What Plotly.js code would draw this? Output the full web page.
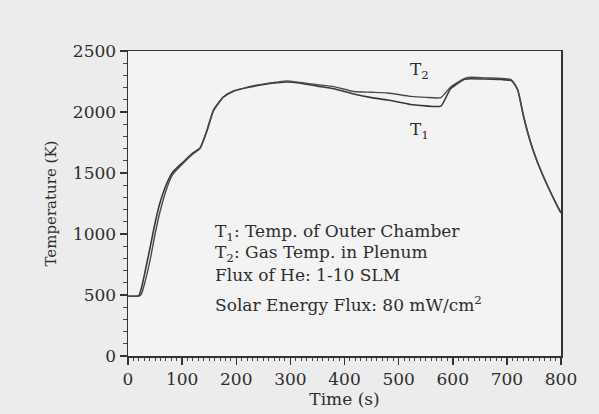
<!DOCTYPE html>
<html>
<head>
<meta charset="utf-8">
<script src="https://cdn.plot.ly/plotly-3.0.1.min.js"></script>
<style>html,body{margin:0;padding:0;background:#ececec;}#chart{width:599px;height:414px;}</style>
</head>
<body>
<div id="chart"></div>
<script>
// Time (s)
const times = [0, 10, 20, 25, 31, 41, 50, 59, 72, 83, 102, 120, 133, 146, 158, 176, 195, 226, 257, 275, 294, 319, 350, 380, 417, 450, 480, 522, 550, 578, 596, 620, 633, 660, 690, 707, 711, 720, 731, 744, 757, 776, 794, 800];
// T1: Temp. of Outer Chamber (K)
const t1 = [490, 490, 495, 560, 680, 893, 1090, 1254, 1418, 1508, 1590, 1664, 1705, 1852, 2016, 2123, 2172, 2205, 2230, 2240, 2246, 2236, 2212, 2190, 2148, 2118, 2098, 2062, 2050, 2048, 2190, 2265, 2272, 2270, 2266, 2260, 2246, 2180, 1959, 1746, 1582, 1385, 1221, 1172];
// T2: Gas Temp. in Plenum (K)
const t2 = [490, 490, 490, 510, 600, 790, 1000, 1180, 1380, 1490, 1580, 1655, 1700, 1845, 2010, 2120, 2170, 2210, 2235, 2245, 2255, 2242, 2224, 2208, 2168, 2162, 2156, 2128, 2120, 2118, 2205, 2272, 2285, 2280, 2276, 2268, 2250, 2185, 1965, 1750, 1585, 1390, 1225, 1175];

const xTickVals = [0, 100, 200, 300, 400, 500, 600, 700, 800];
const yTickVals = [0, 500, 1000, 1500, 2000, 2500];

const noteLines = [
  'T<sub>1</sub>: Temp. of Outer Chamber',
  'T<sub>2</sub>: Gas Temp. in Plenum',
  'Flux of He: 1-10 SLM',
  'Solar Energy Flux: 80 mW/cm<sup>2</sup>'
];
const noteY = [1016, 844, 664, 426];

const font = {family: 'DejaVu Serif', size: 17, color: '#2e2e2e'};
const lineColor = '#383838';

const traces = [
  {x: times, y: t1, mode: 'lines', name: 'T1', line: {color: lineColor, width: 1.6, shape: 'spline', smoothing: 0.5}},
  {x: times, y: t2, mode: 'lines', name: 'T2', line: {color: '#4a4a4a', width: 1.4, shape: 'spline', smoothing: 0.5}}
];

const annotations = noteLines.map((t, i) => ({
  x: 157, y: noteY[i], xref: 'x', yref: 'y', text: t, showarrow: false,
  xanchor: 'left', yanchor: 'middle', font: font
}));
annotations.push({x: 538, y: 2344, xref: 'x', yref: 'y', text: 'T<sub>2</sub>', showarrow: false, font: font});
annotations.push({x: 538, y: 1852, xref: 'x', yref: 'y', text: 'T<sub>1</sub>', showarrow: false, font: font});

const axisCommon = {
  showgrid: false, zeroline: false, showline: true, mirror: true,
  linecolor: '#333', linewidth: 1.5, ticks: 'outside', ticklen: 7, tickwidth: 1.5, tickcolor: '#333',
  tickfont: font
};

const layout = {
  width: 599, height: 414,
  margin: {l: 128, r: 38, t: 51, b: 58},
  paper_bgcolor: '#ececec', plot_bgcolor: '#f3f3f3',
  showlegend: false,
  font: font,
  xaxis: Object.assign({}, axisCommon, {
    range: [0, 800], tickvals: xTickVals, ticktext: xTickVals.map(String),
    minor: {dtick: 10, tick0: 0, ticks: 'outside', ticklen: 3, tickcolor: '#444', tickwidth: 1},
    title: {text: 'Time (s)', font: font, standoff: 2}
  }),
  yaxis: Object.assign({}, axisCommon, {
    range: [0, 2500], tickvals: yTickVals, ticktext: yTickVals.map(String),
    minor: {dtick: 100, tick0: 0, ticks: 'outside', ticklen: 4, tickcolor: '#444', tickwidth: 1},
    title: {text: 'Temperature (K)', font: {family: 'DejaVu Serif', size: 15, color: '#2e2e2e'}, standoff: 12}
  }),
  annotations: annotations
};

Plotly.newPlot('chart', traces, layout, {staticPlot: true, displayModeBar: false});
</script>
</body>
</html>
